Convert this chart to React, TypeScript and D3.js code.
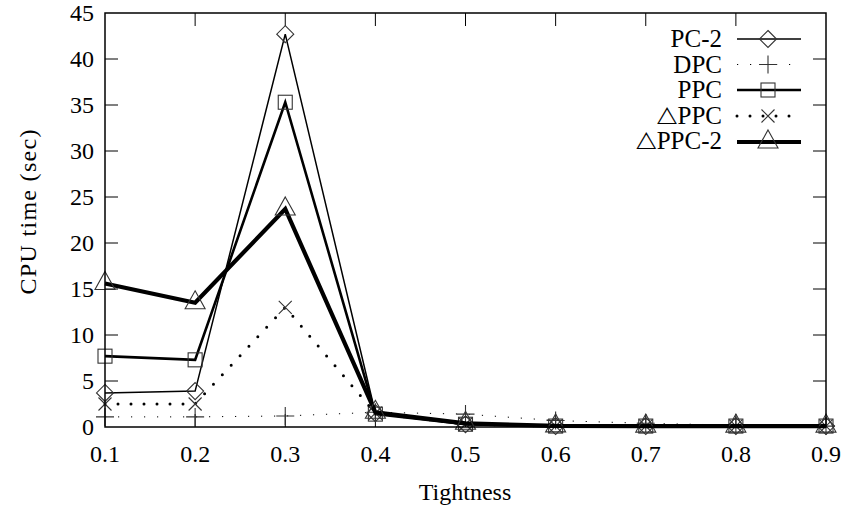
import React from "react";
import * as d3 from "d3";

const tightness = [0.1, 0.2, 0.3, 0.4, 0.5, 0.6, 0.7, 0.8, 0.9];
const pc2 = [3.7, 3.9, 42.7, 1.5, 0.3, 0.1, 0.1, 0.1, 0.1];
const dpc = [1.1, 1.1, 1.2, 1.6, 1.4, 0.7, 0.4, 0.2, 0.1];
const ppc = [7.7, 7.3, 35.3, 1.4, 0.3, 0.1, 0.1, 0.1, 0.1];
const dppc = [2.5, 2.5, 13.0, 1.5, 0.3, 0.1, 0.1, 0.1, 0.1];
const dppc2 = [15.6, 13.5, 23.7, 1.6, 0.4, 0.12, 0.1, 0.1, 0.1];
const seriesNames = ["PC-2", "DPC", "PPC", "\u25B3PPC", "\u25B3PPC-2"];
const xTicks = [0.1, 0.2, 0.3, 0.4, 0.5, 0.6, 0.7, 0.8, 0.9];
const yTicks = [0, 5, 10, 15, 20, 25, 30, 35, 40, 45];

const W = 848, H = 506;
const L = 105, R = 826, T = 13, B = 427;
const FONT = `"Liberation Serif", "Tinos", "Times New Roman", "FreeSerif"`;
const FS = 24;
const MK = "#333";

type Style = { width: number; dash?: string; cap?: string; marker: string };
const styles: Style[] = [
  { width: 1.5, marker: "diamond" },
  { width: 1, dash: "1.2 11.8", cap: "butt", marker: "plus" },
  { width: 2.6, marker: "square" },
  { width: 3, dash: "0 13", cap: "round", marker: "x" },
  { width: 4.2, marker: "triangle" },
];

function Marker({ kind, x, y }: { kind: string; x: number; y: number }) {
  const p = { fill: "none", stroke: MK, strokeWidth: 1.1 };
  if (kind === "diamond") {
    const s = 8.5;
    return <path d={`M${x},${y - s}L${x + s},${y}L${x},${y + s}L${x - s},${y}Z`} {...p} />;
  }
  if (kind === "plus") {
    const s = 9;
    return <path d={`M${x - s},${y}H${x + s}M${x},${y - s}V${y + s}`} {...p} />;
  }
  if (kind === "square") {
    const s = 7;
    return <rect x={x - s} y={y - s} width={2 * s} height={2 * s} {...p} />;
  }
  if (kind === "x") {
    const s = 6.5;
    return <path d={`M${x - s},${y - s}L${x + s},${y + s}M${x - s},${y + s}L${x + s},${y - s}`} {...p} />;
  }
  const s = 10;
  return <path d={`M${x},${y - 12}L${x + s},${y + 6}L${x - s},${y + 6}Z`} {...p} />;
}

function Label(props: any) {
  const { children, ...rest } = props;
  return (
    <text fontFamily={FONT} style={{ fontFamily: FONT }} fill="#000" {...rest}>
      {children}
    </text>
  );
}

export default function App() {
  const xs = d3.scaleLinear().domain([0.1, 0.9]).range([L, R]);
  const ys = d3.scaleLinear().domain([0, 45]).range([B, T]);
  const all = [pc2, dpc, ppc, dppc, dppc2];
  const line = d3
    .line<number>()
    .x((_, i) => xs(tightness[i]))
    .y((d) => ys(d));
  const tickLen = 13;
  const legendY = [39, 64.5, 90, 116, 142];
  const legendBase = [47, 72.5, 98, 123.5, 149];

  return (
    <svg width={W} height={H} style={{ position: "absolute", left: 0, top: 0 }}>
      <rect x={0} y={0} width={W} height={H} fill="#fff" />
      {yTicks.map((t) => (
        <g key={"y" + t}>
          {t > 0 && t < 45 && (
            <>
              <line x1={L} x2={L + tickLen} y1={ys(t)} y2={ys(t)} stroke="#000" strokeWidth={1} />
              <line x1={R} x2={R - tickLen} y1={ys(t)} y2={ys(t)} stroke="#000" strokeWidth={1} />
            </>
          )}
          <Label x={L - 11} y={ys(t) + 8} textAnchor="end" fontSize={FS}>
            {String(t)}
          </Label>
        </g>
      ))}
      {xTicks.map((t, i) => (
        <g key={"x" + t}>
          {i > 0 && i < xTicks.length - 1 && (
            <>
              <line x1={xs(t)} x2={xs(t)} y1={B} y2={B - tickLen} stroke="#000" strokeWidth={1} />
              <line x1={xs(t)} x2={xs(t)} y1={T} y2={T + tickLen} stroke="#000" strokeWidth={1} />
            </>
          )}
          <Label x={xs(t)} y={462} textAnchor="middle" fontSize={FS}>
            {t.toFixed(1)}
          </Label>
        </g>
      ))}
      {all.map((vals, si) => {
        const st = styles[si];
        return (
          <g key={"s" + si}>
            <path
              d={line(vals) || ""}
              fill="none"
              stroke="#000"
              strokeWidth={st.width}
              strokeDasharray={st.dash}
              strokeLinecap={(st.cap as any) || "butt"}
              strokeLinejoin="miter"
            />
            {vals.map((v, i) => (
              <Marker key={i} kind={st.marker} x={xs(tightness[i])} y={ys(v)} />
            ))}
          </g>
        );
      })}
      <rect x={L} y={T} width={R - L} height={B - T} fill="none" stroke="#000" strokeWidth={1.5} />
      {seriesNames.map((n, i) => {
        const st = styles[i];
        return (
          <g key={"l" + n}>
            <Label x={722} y={legendBase[i]} textAnchor="end" fontSize={FS + 1}>
              {n}
            </Label>
            <line
              x1={737}
              x2={801}
              y1={legendY[i]}
              y2={legendY[i]}
              stroke="#000"
              strokeWidth={st.width}
              strokeDasharray={st.dash}
              strokeLinecap={(st.cap as any) || "butt"}
            />
            <Marker kind={st.marker} x={768} y={legendY[i]} />
          </g>
        );
      })}
      <Label x={465} y={500} textAnchor="middle" fontSize={FS}>
        Tightness
      </Label>
      <Label
        transform={`translate(36,212) rotate(-90)`}
        textAnchor="middle"
        fontSize={FS}
        textLength={165}
        lengthAdjust="spacing"
      >
        CPU time (sec)
      </Label>
    </svg>
  );
}
